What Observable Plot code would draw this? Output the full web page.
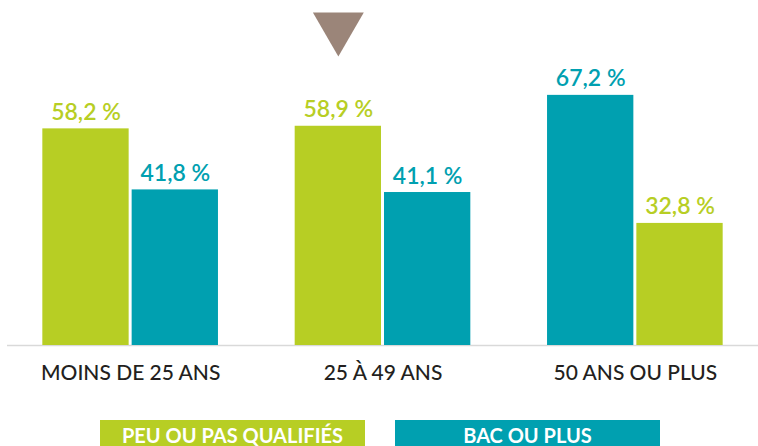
<!DOCTYPE html>
<html><head><meta charset="utf-8">
<script src="https://cdn.jsdelivr.net/npm/d3@7"></script>
<script src="https://cdn.jsdelivr.net/npm/@observablehq/plot@0.6"></script>
<style>
body{margin:0;background:#fff;font-family:Lato,sans-serif;}
#legend{display:flex;gap:30px;margin-left:100px;margin-top:10px;}
.key{width:265px;height:30px;color:#fff;font-family:Lato,sans-serif;font-weight:bold;font-size:20px;display:flex;align-items:center;justify-content:center;}
</style></head><body>
<div id="chart"></div>
<div id="legend"></div>
<script>
const groups = ["MOINS DE 25 ANS", "25 À 49 ANS", "50 ANS OU PLUS"];
const seriesNames = ["PEU OU PAS QUALIFIÉS", "BAC OU PLUS"];
const peuValues = [58.2, 58.9, 32.8];
const bacValues = [41.8, 41.1, 67.2];
const leftSeries = ["PEU OU PAS QUALIFIÉS", "PEU OU PAS QUALIFIÉS", "BAC OU PLUS"];
const markerGroups = ["25 À 49 ANS"];
const seriesColors = ["#b7ce24", "#00a0b0"];

const rows = [];
groups.forEach((g, i) => {
  [[seriesNames[0], peuValues[i]], [seriesNames[1], bacValues[i]]].forEach(([s, v]) => {
    rows.push({group: g, series: s, value: v, side: s === leftSeries[i] ? "left" : "right"});
  });
});
const leftRows = rows.filter(d => d.side === "left");
const rightRows = rows.filter(d => d.side === "right");

const W = 758, H = 410, ML = 7, MR = 0, MT = 10, MB = 65;
const PI = 0.304, PO = 0.14;
const bw = d3.scaleBand().domain(groups).range([ML, W - MR]).paddingInner(PI).paddingOuter(PO).bandwidth();
const half = bw / 2, gap = 1.5;
const off = (half + gap) / 2;
const fmt = v => v.toFixed(1).replace(".", ",") + " %";

const chart = Plot.plot({
  width: W, height: H,
  marginLeft: ML, marginRight: MR, marginTop: MT, marginBottom: MB,
  style: {fontFamily: "Lato, sans-serif", background: "#fff"},
  x: {domain: groups, paddingInner: PI, paddingOuter: PO, round: false},
  y: {domain: [0, 90], axis: null},
  color: {domain: seriesNames, range: seriesColors},
  marks: [
    Plot.ruleY([0], {stroke: "#d9d9d9", strokeWidth: 1.5}),
    Plot.barY(leftRows, {x: "group", y: "value", fill: "series", insetRight: half + gap}),
    Plot.barY(rightRows, {x: "group", y: "value", fill: "series", insetLeft: half + gap}),
    Plot.text(leftRows, {x: "group", y: "value", text: d => fmt(d.value), fill: "series", dx: -off, dy: -9, lineAnchor: "bottom", fontSize: 23, fontWeight: 600}),
    Plot.text(rightRows, {x: "group", y: "value", text: d => fmt(d.value), fill: "series", dx: off, dy: -9, lineAnchor: "bottom", fontSize: 23, fontWeight: 600}),
    Plot.dot(markerGroups, {x: d => d, frameAnchor: "top", symbol: "triangle", r: 18.9, rotate: 180, fill: "#9b8579", stroke: null, dx: -off, dy: 16.7}),
    Plot.axisX({tickSize: 0, tickPadding: 20, fontSize: 21, fontWeight: 500, fill: "#231f20", label: null})
  ]
});
document.getElementById("chart").append(chart);

const legend = document.getElementById("legend");
seriesNames.forEach((s, i) => {
  const k = document.createElement("div");
  k.className = "key";
  k.style.background = seriesColors[i];
  k.textContent = s;
  legend.append(k);
});
</script>
</body></html>
